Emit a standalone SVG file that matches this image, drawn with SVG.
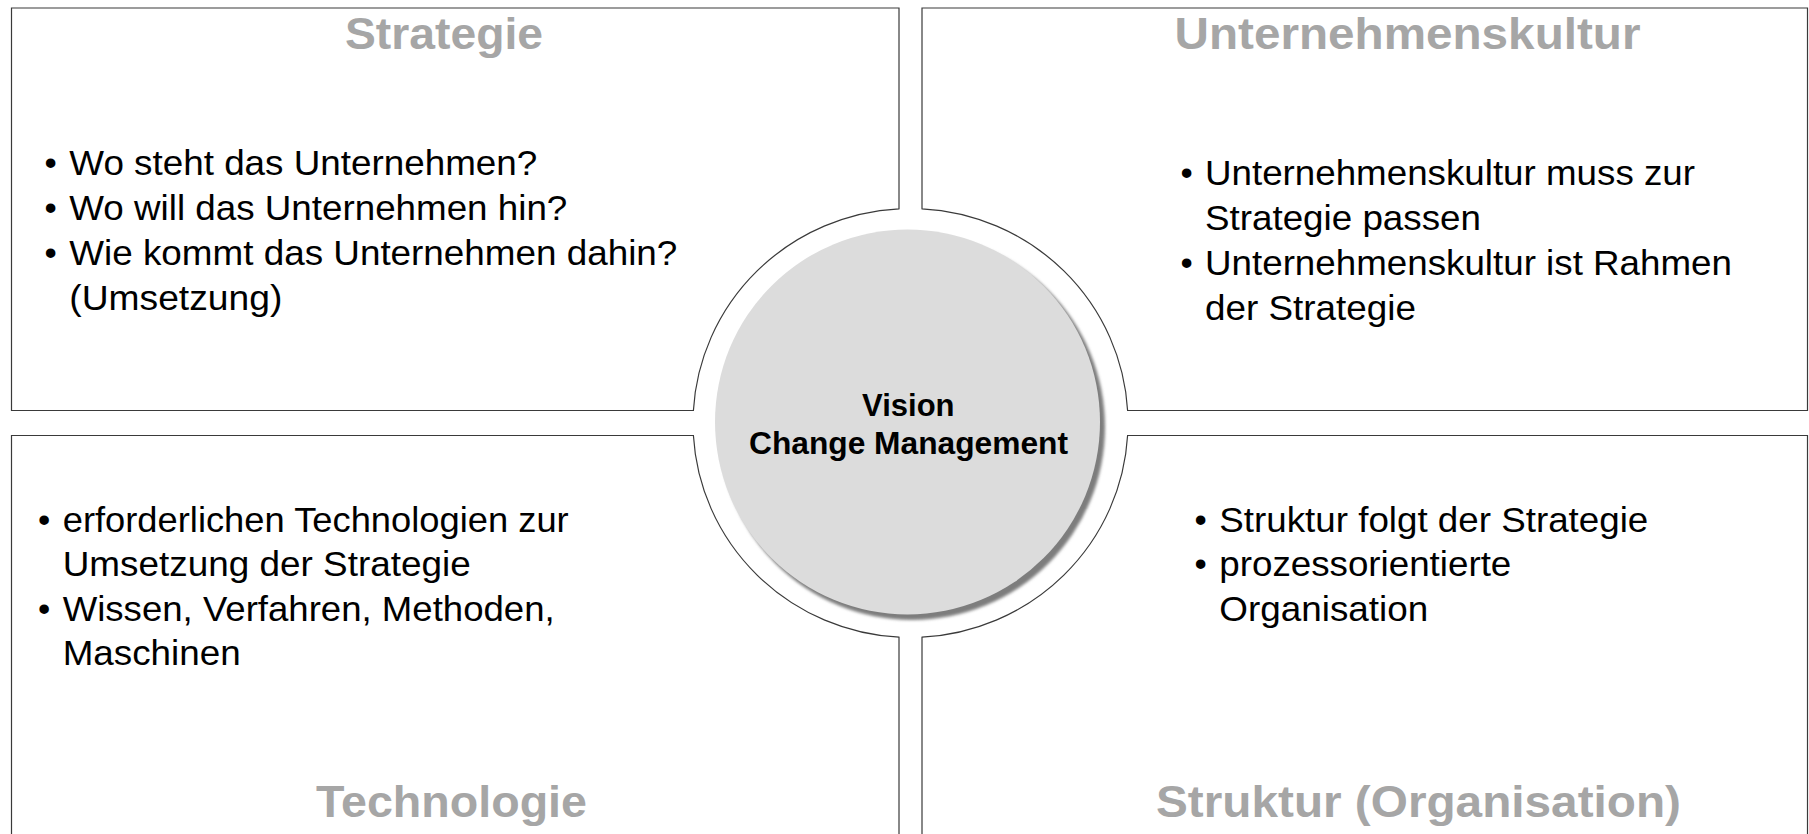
<svg xmlns="http://www.w3.org/2000/svg" width="1809" height="834" viewBox="0 0 1809 834">
<defs>
<filter id="soft" x="-10%" y="-10%" width="120%" height="120%"><feGaussianBlur stdDeviation="1.6"/></filter>
</defs>
<style>
.box{fill:#ffffff;stroke:#3a3a3a;stroke-width:1.2}
.title{font-family:"Liberation Sans",Arial,sans-serif;font-weight:bold;font-size:45px;fill:#a6a6a6}
.body{font-family:"Liberation Sans",Arial,sans-serif;font-size:35px;fill:#000000}
.center{font-family:"Liberation Sans",Arial,sans-serif;font-weight:bold;font-size:31px;fill:#000000;text-anchor:middle}
</style>
<rect width="1809" height="834" fill="#ffffff"/>

<g id="strategie">
<path class="box" d="M 11.5 8 H 899 V 208.8 A 217.5 214.5 0 0 0 693.4 410.5 H 11.5 Z"/>
<text class="title" x="345" y="48.5" textLength="198" lengthAdjust="spacingAndGlyphs">Strategie</text>
<text class="body" x="44.5" y="175">•</text>
<text class="body" x="69.3" y="175" textLength="468" lengthAdjust="spacingAndGlyphs">Wo steht das Unternehmen?</text>
<text class="body" x="44.5" y="220">•</text>
<text class="body" x="69.3" y="220" textLength="498" lengthAdjust="spacingAndGlyphs">Wo will das Unternehmen hin?</text>
<text class="body" x="44.5" y="265">•</text>
<text class="body" x="69.3" y="265" textLength="608" lengthAdjust="spacingAndGlyphs">Wie kommt das Unternehmen dahin?</text>
<text class="body" x="69.3" y="310" textLength="213" lengthAdjust="spacingAndGlyphs">(Umsetzung)</text>
</g>

<g id="unternehmenskultur">
<path class="box" d="M 922 8 H 1807.5 V 410.5 H 1127.6 A 217.5 214.5 0 0 0 922 208.8 Z"/>
<text class="title" x="1174.5" y="48.5" textLength="466" lengthAdjust="spacingAndGlyphs">Unternehmenskultur</text>
<text class="body" x="1180.5" y="184.5">•</text>
<text class="body" x="1205" y="184.5" textLength="490" lengthAdjust="spacingAndGlyphs">Unternehmenskultur muss zur</text>
<text class="body" x="1205" y="229.5" textLength="276" lengthAdjust="spacingAndGlyphs">Strategie passen</text>
<text class="body" x="1180.5" y="274.5">•</text>
<text class="body" x="1205" y="274.5" textLength="527" lengthAdjust="spacingAndGlyphs">Unternehmenskultur ist Rahmen</text>
<text class="body" x="1205" y="319.5" textLength="211" lengthAdjust="spacingAndGlyphs">der Strategie</text>
</g>

<g id="technologie">
<path class="box" d="M 11.5 840 V 435.5 H 693.4 A 217.5 214.5 0 0 0 899 637.2 V 840"/>
<text class="body" x="38" y="531.5">•</text>
<text class="body" x="62.7" y="531.5" textLength="506" lengthAdjust="spacingAndGlyphs">erforderlichen Technologien zur</text>
<text class="body" x="62.7" y="576" textLength="408" lengthAdjust="spacingAndGlyphs">Umsetzung der Strategie</text>
<text class="body" x="38" y="620.5">•</text>
<text class="body" x="62.7" y="620.5" textLength="492" lengthAdjust="spacingAndGlyphs">Wissen, Verfahren, Methoden,</text>
<text class="body" x="62.7" y="665" textLength="178" lengthAdjust="spacingAndGlyphs">Maschinen</text>
<text class="title" x="316" y="817" textLength="271" lengthAdjust="spacingAndGlyphs">Technologie</text>
</g>

<g id="struktur">
<path class="box" d="M 922 840 V 637.2 A 217.5 214.5 0 0 0 1127.6 435.5 H 1807.5 V 840"/>
<text class="body" x="1194.5" y="531.5">•</text>
<text class="body" x="1219.3" y="531.5" textLength="429" lengthAdjust="spacingAndGlyphs">Struktur folgt der Strategie</text>
<text class="body" x="1194.5" y="576">•</text>
<text class="body" x="1219.3" y="576" textLength="292" lengthAdjust="spacingAndGlyphs">prozessorientierte</text>
<text class="body" x="1219.3" y="620.5" textLength="209" lengthAdjust="spacingAndGlyphs">Organisation</text>
<text class="title" x="1156" y="817" textLength="525" lengthAdjust="spacingAndGlyphs">Struktur (Organisation)</text>
</g>

<g id="vision">
<circle cx="912" cy="427" r="193" fill="#7d7d7d" filter="url(#soft)"/>
<circle cx="907.5" cy="422" r="192.5" fill="#dcdcdc"/>
<text class="center" x="908.3" y="416">Vision</text>
<text class="center" x="908.5" y="454" textLength="319" lengthAdjust="spacingAndGlyphs">Change Management</text>
</g>

<g id="connectors"/>
</svg>
